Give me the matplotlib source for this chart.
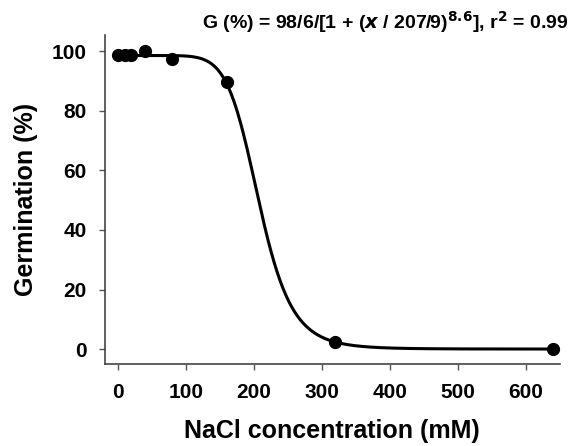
import numpy as np
import matplotlib
matplotlib.use('Agg')
import matplotlib.pyplot as plt

# dane
nacl = [0, 10, 20, 40, 80, 160, 320, 640]
germination = [98.6, 98.6, 98.6, 100.0, 97.3, 89.6, 2.5, 0.0]
x_ticks = [0, 100, 200, 300, 400, 500, 600]
y_ticks = [0, 20, 40, 60, 80, 100]

# parametry dopasowania
g_max = 98.6
x50 = 207.9
slope = 8.6

plt.rcParams['font.family'] = ['Liberation Sans', 'DejaVu Sans']
plt.rcParams['font.weight'] = 'bold'

fig = plt.figure(figsize=(5.86, 4.46), dpi=100)
ax = fig.add_axes([0.179, 0.184, 0.777, 0.737])

xs = np.linspace(0, 640, 600)
ax.plot(xs, g_max / (1 + (xs / x50) ** slope), color='black', lw=2.2, zorder=2)
ax.plot(nacl, germination, 'o', color='black', ms=8.5, zorder=3)

ax.set_xlim(-19, 651)
ax.set_ylim(-5, 105.4)
ax.set_xticks(x_ticks)
ax.set_yticks(y_ticks)
ax.tick_params(labelsize=15, direction='out', length=4.5, width=1, color='#555555')
ax.tick_params(axis='x', pad=9.5)
ax.tick_params(axis='y', pad=8.5)
for lab in ax.get_xticklabels() + ax.get_yticklabels():
    lab.set_fontweight('bold')

for side in ['top', 'right']:
    ax.spines[side].set_visible(False)
for side in ['left', 'bottom']:
    ax.spines[side].set_color('#444444')
    ax.spines[side].set_linewidth(1.2)

# podpisy osi jako tekst figury, żeby trzymać pozycję z oryginału
fig.text(0.567, 0.034, 'NaCl concentration (mM)', ha='center', va='center',
         fontsize=18, fontweight='bold')
fig.text(0.044, 0.552, 'Germination (%)', ha='center', va='center', rotation=90,
         fontsize=18, fontweight='bold')

fig.text(0.657, 0.951, r'G (%) = 98/6/[1 + ($\mathbfit{x}$ / 207/9)$^{\mathbf{8.6}}$], r$^{\mathbf{2}}$ = 0.99',
         ha='center', va='center', fontsize=14, fontweight='bold')

fig.savefig('out.png', dpi=100)
